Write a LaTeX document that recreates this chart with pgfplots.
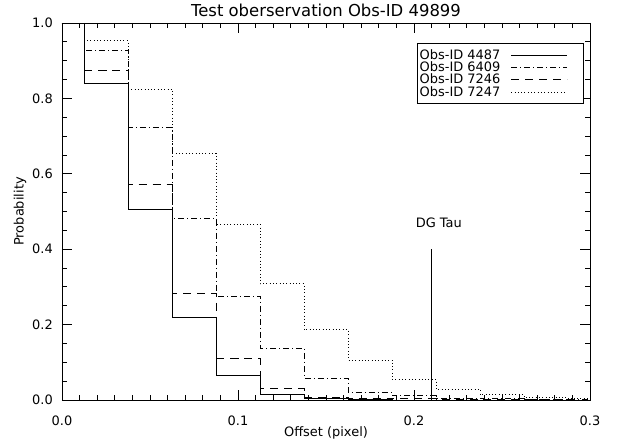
\documentclass[border=0pt]{standalone}
\usepackage{fontspec}
\setmainfont{DejaVu Sans}
\usepackage{pgfplots}
\usepackage{pgfplotstable}
\pgfplotsset{compat=1.18}

\pgfplotstableread{
x      sA     sB     sC     sD
0.000  1.000  1.000  1.000  1.000
0.025  0.841  0.927  0.874  0.953
0.050  0.505  0.724  0.572  0.825
0.075  0.218  0.481  0.282  0.654
0.100  0.064  0.276  0.110  0.466
0.125  0.015  0.138  0.030  0.308
0.150  0.004  0.058  0.008  0.186
0.175  0.001  0.021  0.004  0.106
0.200  0.000  0.011  0.003  0.055
0.225  0.000  0.005  0.002  0.029
0.250  0.000  0.003  0.001  0.014
0.275  0.000  0.002  0.001  0.007
0.300  0.000  0.001  0.000  0.003
}\data

\begin{document}
\begin{tikzpicture}
\begin{axis}[
  name=ax,
  scale only axis,
  width=528bp, height=377bp,
  xmin=0, xmax=0.3, ymin=0, ymax=1,
  axis lines=box,
  xtick pos=both, ytick pos=both,
  xtick={0,0.1,0.2,0.3},
  xticklabels={0.0,0.1,0.2,0.3},
  ytick={0,0.2,0.4,0.6,0.8,1.0},
  yticklabels={0.0,0.2,0.4,0.6,0.8,1.0},
  minor x tick num=9,
  minor y tick num=3,
  tick align=inside,
  major tick length=10bp,
  minor tick length=5bp,
  axis line style={line width=0.8bp},
  tick style={draw=black, line width=0.8bp},
  tick label style={font=\fontsize{13}{13}\selectfont, inner sep=0pt},
  xticklabel style={anchor=base, yshift=-25bp},
  yticklabel style={anchor=east, xshift=-9bp},
  title={Test oberservation Obs-ID 49899},
  every axis title shift=0pt,
  title style={at={(axis description cs:0.5,1)}, anchor=base, yshift=6bp, inner sep=0pt, font=\fontsize{16.5}{16.5}\selectfont},
  xlabel={Offset (pixel)},
  ylabel={Probability},
  label style={font=\fontsize{13}{13}\selectfont, inner sep=0pt},
  xlabel style={at={([yshift=-36bp]axis description cs:0.5,0)}, anchor=base},
  ylabel style={at={([xshift=-42bp]axis description cs:0,0.5)}, anchor=center, rotate=0},
  legend plot pos=right,
  legend image code/.code={\draw[#1] (0bp,0bp) -- (56bp,0bp); \path (70bp,0bp);},
  legend style={at={(0.9886,0.947)}, anchor=north east, draw=black, line width=0.6bp,
    font=\fontsize{13}{13}\selectfont, row sep=0bp, column sep=10bp,
    inner xsep=2bp, inner ysep=5.5bp, nodes={inner sep=0.5bp}},
  legend cell align=left,
]
\addplot[black, line width=0.8bp, const plot mark mid] table[x=x, y=sA] {\data};
\addlegendentry{Obs-ID 4487}
\addplot[black, line width=0.8bp, const plot mark mid, dash pattern=on 6bp off 3bp on 1bp off 3bp] table[x=x, y=sB] {\data};
\addlegendentry{Obs-ID 6409}
\addplot[black, line width=0.8bp, const plot mark mid, dash pattern=on 8bp off 6bp] table[x=x, y=sC] {\data};
\addlegendentry{Obs-ID 7246}
\addplot[black, line width=0.8bp, const plot mark mid, dash pattern=on 0.8bp off 2.5bp] table[x=x, y=sD] {\data};
\addlegendentry{Obs-ID 7247}
\addplot[black, line width=0.8bp, forget plot] coordinates {(0.21,0) (0.21,0.40)};
\node[anchor=base west, inner sep=0pt, font=\fontsize{13}{13}\selectfont] at ([xshift=-16bp, yshift=22bp]axis cs:0.21,0.40) {DG Tau};
\end{axis}
\path ([xshift=-62bp,yshift=-43bp]ax.south west) rectangle ([xshift=31bp,yshift=23bp]ax.north east);
\end{tikzpicture}
\end{document}
